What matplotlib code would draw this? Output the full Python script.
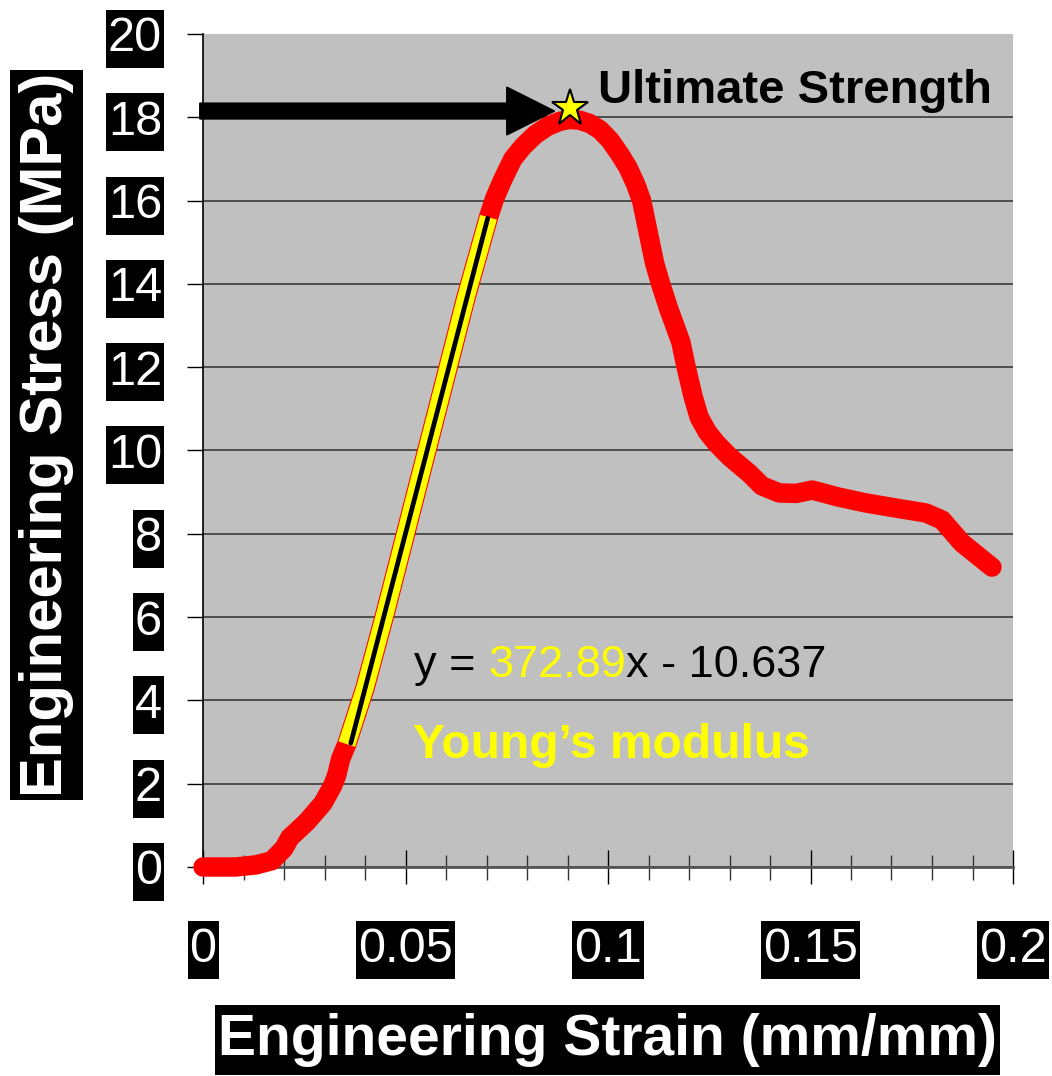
import matplotlib
matplotlib.use("Agg")
import matplotlib.pyplot as plt
from matplotlib.patches import FancyArrow
from matplotlib.path import Path
from matplotlib.ticker import MultipleLocator

plt.rcParams["font.family"] = ["Liberation Sans", "DejaVu Sans"]

# stress-strain curve
strain = [0.0, 0.008, 0.013, 0.017, 0.020, 0.0214, 0.0256, 0.0296, 0.032, 0.033, 0.034,
          0.0355, 0.040, 0.045, 0.050, 0.055, 0.060, 0.065, 0.0705, 0.072, 0.074,
          0.0765, 0.079, 0.082, 0.085, 0.088, 0.0905, 0.093, 0.0955, 0.098,
          0.1005, 0.103, 0.1049, 0.1068, 0.1083, 0.110, 0.1115, 0.113, 0.115,
          0.1165, 0.118, 0.1193, 0.121, 0.1225, 0.1245, 0.1267, 0.130, 0.1349,
          0.138, 0.1423, 0.1465, 0.1504, 0.157, 0.1637, 0.171, 0.1785, 0.1825,
          0.1874, 0.1948]
stress = [0.0, 0.0, 0.05, 0.15, 0.45, 0.7, 1.08, 1.53, 1.95, 2.2, 2.6,
          2.95, 4.3, 6.1, 8.0, 9.9, 11.8, 13.7, 15.6, 16.05, 16.5,
          17.0, 17.3, 17.58, 17.78, 17.9, 17.95, 17.93, 17.85, 17.7,
          17.45, 17.1, 16.8, 16.4, 16.0, 15.2, 14.5, 14.0, 13.4,
          13.0, 12.6, 12.0, 11.3, 10.8, 10.45, 10.18, 9.85, 9.45,
          9.15, 8.98, 8.97, 9.05, 8.88, 8.74, 8.62, 8.5, 8.33,
          7.78, 7.2]

# linear (elastic) part used for the fit
fit_lo, fit_hi = 0.0355, 0.0705
slope, intercept = 372.89, -10.637
uts_strain, uts_stress = 0.0905, 18.23

x_ticks = [0, 0.05, 0.1, 0.15, 0.2]
x_labels = ["0", "0.05", "0.1", "0.15", "0.2"]
y_ticks = list(range(0, 21, 2))


def box_style(padx, height):
    # black label box: small side padding, fixed height (pixels)
    def style(x0, y0, width, h, mutation_size):
        cy = y0 + h / 2
        x0, x1 = x0 - padx, x0 + width + padx
        y0, y1 = cy - height / 2, cy + height / 2
        return Path([(x0, y0), (x1, y0), (x1, y1), (x0, y1), (x0, y0)], closed=True)
    return style


fig = plt.figure(figsize=(10.52, 10.76), dpi=100)
ax = fig.add_axes([203 / 1052, 1 - 867 / 1076, 810 / 1052, 833 / 1076])
ax.set_facecolor("#C0C0C0")
ax.set_xlim(0, 0.2)
ax.set_ylim(0, 20)

ax.plot(strain, stress, color="#FF0000", lw=14, solid_capstyle="round",
        solid_joinstyle="round", zorder=3, clip_on=False)
seg = [(s, t) for s, t in zip(strain, stress) if fit_lo <= s <= fit_hi]
ax.plot([p[0] for p in seg], [p[1] for p in seg], color="#FFFF00", lw=12.5,
        solid_capstyle="butt", zorder=4)
fx = [0.0365, 0.0703]
ax.plot(fx, [slope * v + intercept for v in fx], color="black", lw=3.4,
        solid_capstyle="round", zorder=5)

# arrow + star for ultimate strength
ax.add_patch(FancyArrow(-0.0008, uts_stress - 0.08, 0.0876, 0, width=0.38,
                        head_width=1.15, head_length=0.0118,
                        length_includes_head=True, color="black",
                        clip_on=False, zorder=6))
ax.plot([uts_strain], [uts_stress], marker="*", ms=28, mfc="#FFFF00",
        mec="black", mew=1.5, zorder=7, clip_on=False)
ax.text(0.0975, 18.62, "Ultimate Strength", fontsize=34, fontweight="bold",
        color="black", ha="left", va="center", zorder=7)

t1 = ax.text(0.0521, 4.55, "y = ", fontsize=32.5, color="black", ha="left",
             va="baseline", zorder=7)
t2 = ax.annotate("372.89", xy=(1, 0), xycoords=t1, fontsize=32.5,
                 color="#FFFF00", ha="left", va="bottom", zorder=7)
ax.annotate("x - 10.637", xy=(1, 0), xycoords=t2, fontsize=32.5,
            color="black", ha="left", va="bottom", zorder=7)
ax.text(0.0518, 2.62, "Young\u2019s modulus", fontsize=34.5, fontweight="bold",
        color="#FFFF00", ha="left", va="baseline", zorder=7)

# axes styling
for side in ("top", "right"):
    ax.spines[side].set_visible(False)
ax.spines["left"].set_color("black")
ax.spines["left"].set_linewidth(1.2)
ax.spines["bottom"].set_color("#555555")
ax.spines["bottom"].set_linewidth(2)

ax.set_yticks(y_ticks)
ax.set_yticklabels([str(v) for v in y_ticks])
ax.set_xticks(x_ticks)
ax.set_xticklabels(x_labels)
ax.xaxis.set_minor_locator(MultipleLocator(0.01))
ax.tick_params(axis="y", direction="out", length=11.5, width=1, pad=18,
               labelsize=35, labelcolor="white")
ax.tick_params(axis="x", which="major", direction="inout", length=24.5,
               width=1, pad=31, labelsize=35, labelcolor="white")
ax.tick_params(axis="x", which="minor", direction="inout", length=18, width=1,
               color="#333333")
for lab in ax.get_yticklabels() + ax.get_xticklabels():
    lab.set_bbox(dict(boxstyle=box_style(2, 58), facecolor="black",
                      edgecolor="none"))

ax.yaxis.grid(True, color="#3a3a3a", lw=1.2)
ax.get_ygridlines()[-1].set_visible(False)
ax.set_axisbelow(True)

fig.text(607 / 1052, 1 - 1040 / 1076, "Engineering Strain (mm/mm)", fontsize=41,
         fontweight="bold", color="white", ha="center", va="center",
         bbox=dict(boxstyle=box_style(3, 70), facecolor="black", edgecolor="none"))
fig.text(46.5 / 1052, 1 - 435 / 1076, "Engineering Stress (MPa)", fontsize=43,
         fontweight="bold", color="white", ha="center", va="center",
         rotation=90,
         bbox=dict(boxstyle=box_style(3, 73), facecolor="black", edgecolor="none"))

fig.savefig("out.png", dpi=100)
